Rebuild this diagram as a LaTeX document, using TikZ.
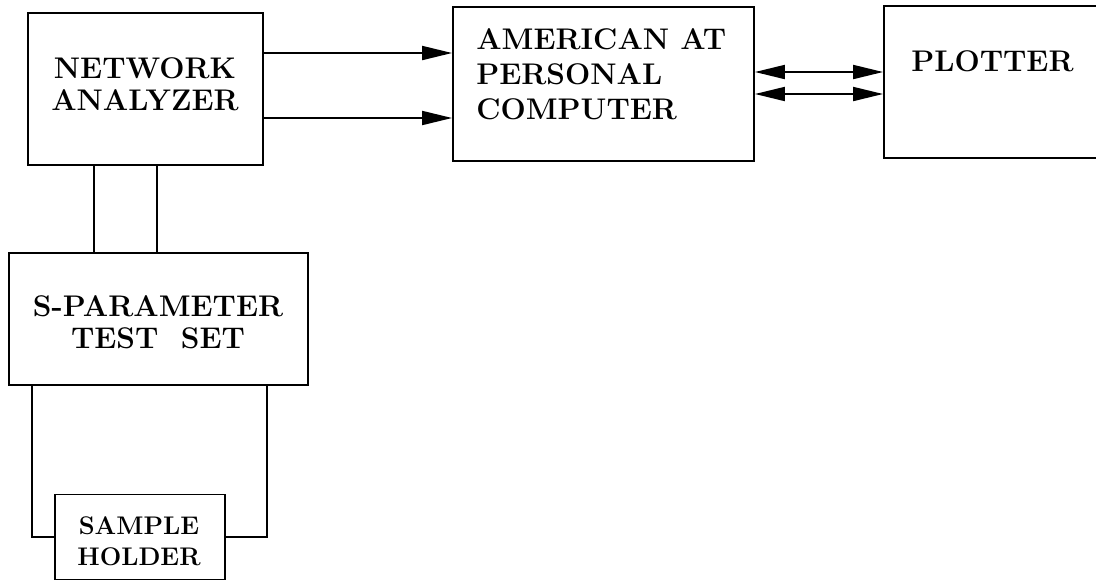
\documentclass[tikz,border=0pt]{standalone}
\usetikzlibrary{arrows.meta}

\begin{document}
\begin{tikzpicture}[
    x=0.02cm, y=-0.02cm,
    blk/.style={rectangle, draw, line width=1.1pt, inner sep=0pt},
    txt/.style={font=\fontsize{17}{18}\selectfont\bfseries, inner sep=0pt},
    arr/.style={line width=1.1pt, -{Triangle[length=6mm,width=2.8mm]}},
    darr/.style={line width=1.1pt, {Triangle[length=6mm,width=2.8mm]}-{Triangle[length=6mm,width=2.8mm]}},
    wire/.style={line width=1.1pt}
]
\clip (0,0) rectangle (1096,583);

% boxes
\node[blk, minimum width=4.70cm, minimum height=3.04cm] (na) at (145.5,89) {};
\node[blk, minimum width=6.02cm, minimum height=3.08cm] (pc) at (603.5,84) {};
\node[blk, minimum width=4.36cm, minimum height=3.04cm] (plot) at (993,82) {};
\node[blk, minimum width=5.98cm, minimum height=2.64cm] (sp) at (158.5,319) {};
\node[blk, minimum width=3.40cm, minimum height=1.70cm] (sh) at (140,537) {};

% texts
\node[txt, align=center] (na-txt) at (145,84) {NETWORK\\ANALYZER};
\node[txt, align=left, anchor=west, font=\fontsize{17}{20}\selectfont\bfseries] (pc-txt) at (476,74) {AMERICAN AT\\PERSONAL\\COMPUTER};
\node[txt, anchor=west] (plot-txt) at (911,61) {PLOTTER};
\node[txt, align=center] (sp-txt) at (158,322) {S-PARAMETER\\TEST\ \ SET};
\node[txt, align=center, font=\fontsize{14.5}{17.5}\selectfont\bfseries] (sh-txt) at (139,541) {SAMPLE\\HOLDER};

% connection points
\coordinate (na-o1) at ([yshift=0.72cm]na.east);
\coordinate (na-o2) at ([yshift=-0.58cm]na.east);
\coordinate (pc-o1) at ([yshift=0.24cm]pc.east);
\coordinate (pc-o2) at ([yshift=-0.2cm]pc.east);
\coordinate (na-d1) at ([xshift=-1.03cm]na.south);
\coordinate (na-d2) at ([xshift=0.23cm]na.south);
\coordinate (sp-d1) at ([xshift=-2.53cm]sp.south);
\coordinate (sp-d2) at ([xshift=2.17cm]sp.south);

% connectors
\draw[arr] (na-o1) -- (na-o1 -| pc.west);
\draw[arr] (na-o2) -- (na-o2 -| pc.west);
\draw[darr] (pc-o1) -- (pc-o1 -| plot.west);
\draw[darr] (pc-o2) -- (pc-o2 -| plot.west);
\draw[wire] (na-d1) -- (na-d1 |- sp.north);
\draw[wire] (na-d2) -- (na-d2 |- sp.north);
\draw[wire] (sp-d1) |- (sh.west);
\draw[wire] (sp-d2) |- (sh.east);
\end{tikzpicture}
\end{document}
